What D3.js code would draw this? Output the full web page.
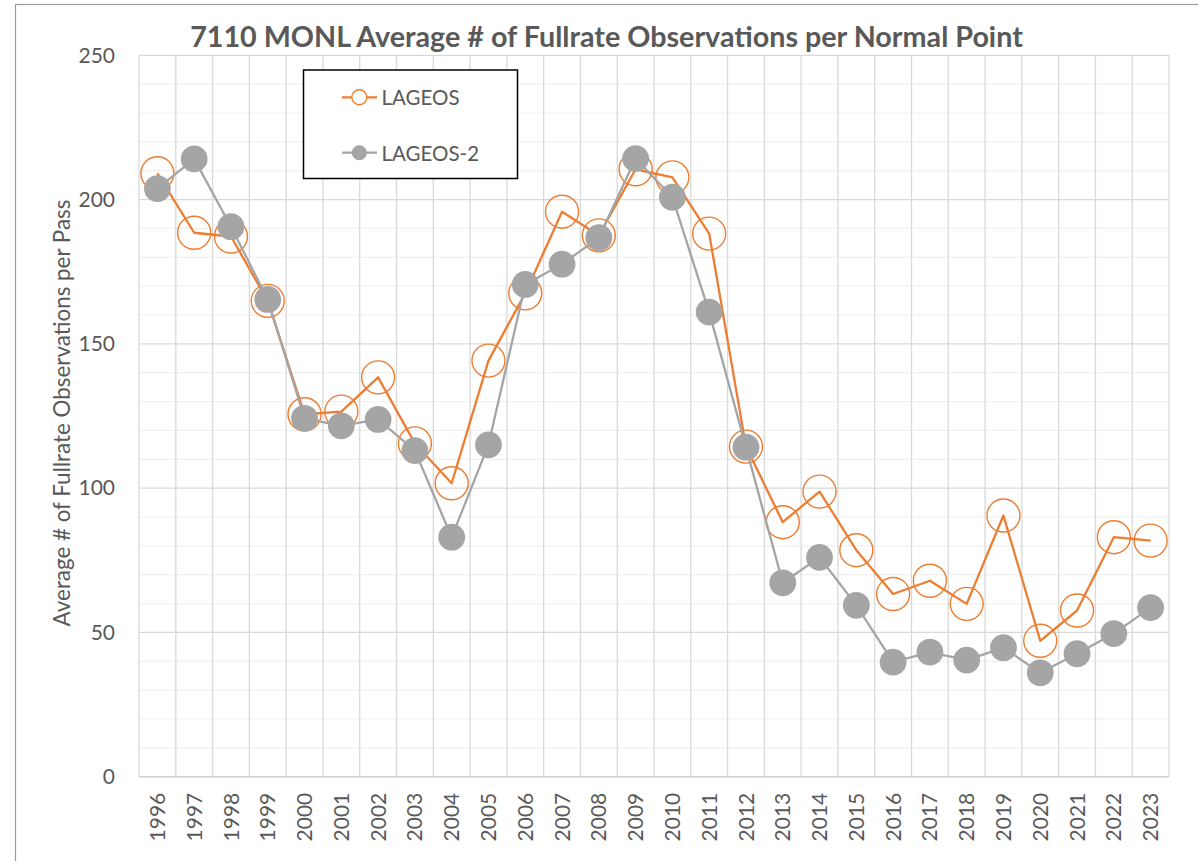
<!DOCTYPE html>
<html>
<head>
<meta charset="utf-8">
<script src="https://cdn.jsdelivr.net/npm/d3@7"></script>
<style>
  html, body { margin: 0; padding: 0; background: #ffffff; }
  svg { display: block; }
  text { font-family: Lato, "Open Sans", "Liberation Sans", sans-serif; fill: #595959; }
</style>
</head>
<body>
<svg id="chart" width="1198" height="861"></svg>
<script>
// Yearly averages for station 7110 (MONL)
const years = [1996, 1997, 1998, 1999, 2000, 2001, 2002, 2003, 2004, 2005,
               2006, 2007, 2008, 2009, 2010, 2011, 2012, 2013, 2014, 2015,
               2016, 2017, 2018, 2019, 2020, 2021, 2022, 2023];
const lageos = [209.1, 188.5, 187.2, 164.9, 125.6, 126.5, 138.4, 115.5, 101.7, 144.2,
                167.5, 195.8, 187.6, 210.5, 207.7, 188.2, 114.4, 88.2, 98.8, 78.5,
                63.3, 67.9, 59.9, 90.5, 47.1, 57.6, 83.0, 81.8];
const lageos2 = [203.8, 214.1, 190.6, 165.4, 124.2, 121.6, 123.8, 113.0, 83.0, 115.0,
                 170.6, 177.6, 186.8, 214.2, 200.8, 161.0, 114.2, 67.2, 76.0, 59.4,
                 39.7, 43.2, 40.4, 44.7, 36.0, 42.6, 49.6, 58.6];
const yTicks = [0, 50, 100, 150, 200, 250];
const seriesNames = ["LAGEOS", "LAGEOS-2"];

const titleText = "7110 MONL Average # of Fullrate Observations per Normal Point";
const yTitleText = "Average # of Fullrate Observations per Pass";

const svg = d3.select("#chart");

// Outer chart frame (only top and left edges fall inside the canvas)
svg.append("rect")
  .attr("x", 15.5).attr("y", 4.5)
  .attr("width", 1300).attr("height", 1000)
  .attr("fill", "#ffffff")
  .attr("stroke", "#9a9a9a").attr("stroke-width", 1.2);

const plot = { left: 139, right: 1169, top: 55.3, bottom: 776.7 };

const x = d3.scaleBand().domain(years).range([plot.left, plot.right]).padding(0);
const y = d3.scaleLinear().domain([0, 250]).range([plot.bottom, plot.top]);
const cx = d => x(d) + x.bandwidth() / 2;

// Minor horizontal gridlines every 10
const minor = d3.range(10, 250, 10).filter(v => v % 50 !== 0);
svg.append("g").selectAll("line").data(minor).join("line")
  .attr("x1", plot.left).attr("x2", plot.right)
  .attr("y1", d => y(d)).attr("y2", d => y(d))
  .attr("stroke", "#f0f0f0").attr("stroke-width", 1.2);

// Major horizontal gridlines
svg.append("g").selectAll("line").data(yTicks.filter(v => v > 0)).join("line")
  .attr("x1", plot.left).attr("x2", plot.right)
  .attr("y1", d => y(d)).attr("y2", d => y(d))
  .attr("stroke", "#d9d9d9").attr("stroke-width", 1.3);

// Vertical gridlines at category boundaries
const bounds = years.map(d => x(d)).concat([plot.right]);
svg.append("g").selectAll("line").data(bounds).join("line")
  .attr("x1", d => d).attr("x2", d => d)
  .attr("y1", plot.top).attr("y2", plot.bottom)
  .attr("stroke", "#d9d9d9").attr("stroke-width", 1.3);

// Category axis line
svg.append("line")
  .attr("x1", plot.left).attr("x2", plot.right)
  .attr("y1", plot.bottom).attr("y2", plot.bottom)
  .attr("stroke", "#cfcfcf").attr("stroke-width", 1.6);

// Value axis labels
const yAxis = svg.append("g")
  .attr("transform", `translate(${plot.left},0)`)
  .call(d3.axisLeft(y).tickValues(yTicks).tickSize(0).tickPadding(24));
yAxis.select(".domain").remove();
yAxis.selectAll("text")
  .attr("font-family", "Lato, 'Open Sans', sans-serif")
  .attr("font-size", 21).attr("fill", "#595959");

// Category axis labels, rotated
const xAxis = svg.append("g")
  .attr("transform", `translate(0,${plot.bottom})`)
  .call(d3.axisBottom(x).tickSize(0).tickPadding(0));
xAxis.select(".domain").remove();
xAxis.selectAll("text")
  .attr("font-family", "Lato, 'Open Sans', sans-serif")
  .attr("font-size", 21).attr("fill", "#595959")
  .attr("text-anchor", "end")
  .attr("x", 0).attr("y", 0).attr("dy", "0.36em")
  .attr("transform", "translate(0,16) rotate(-90)");

// Series lines and markers
const line = d3.line().x((d, i) => cx(years[i])).y(d => y(d));

const orange = "#ED7D31";
const grey = "#A5A5A5";

const g1 = svg.append("g");
g1.append("path").datum(lageos)
  .attr("d", line).attr("fill", "none")
  .attr("stroke", orange).attr("stroke-width", 2.3).attr("stroke-linejoin", "round");
g1.selectAll("circle").data(lageos).join("circle")
  .attr("cx", (d, i) => cx(years[i])).attr("cy", d => y(d))
  .attr("r", 16.5).attr("fill", "none")
  .attr("stroke", orange).attr("stroke-width", 1.4);

const g2 = svg.append("g");
g2.append("path").datum(lageos2)
  .attr("d", line).attr("fill", "none")
  .attr("stroke", grey).attr("stroke-width", 2.3).attr("stroke-linejoin", "round");
g2.selectAll("circle").data(lageos2).join("circle")
  .attr("cx", (d, i) => cx(years[i])).attr("cy", d => y(d))
  .attr("r", 13.4).attr("fill", grey);

// Title, fitted to its width
const title = svg.append("text")
  .attr("x", 606.5).attr("y", 46.7)
  .attr("text-anchor", "middle")
  .attr("font-weight", "bold")
  .attr("font-size", 28)
  .attr("fill", "#595959")
  .text(titleText);
const tw = title.node().getComputedTextLength();
title.attr("font-size", 28 * 833 / tw);

// Value axis title, fitted to its length
const yTitle = svg.append("text")
  .attr("transform", "translate(61,413) rotate(-90)")
  .attr("text-anchor", "middle")
  .attr("dominant-baseline", "central")
  .attr("font-size", 18)
  .attr("fill", "#595959")
  .text(yTitleText);
const yl = yTitle.node().getComputedTextLength();
yTitle.attr("font-size", 18 * 427 / yl);

// Legend
const legend = svg.append("g");
legend.append("rect")
  .attr("x", 303.5).attr("y", 70)
  .attr("width", 214).attr("height", 108.5)
  .attr("fill", "#ffffff").attr("stroke", "#000000").attr("stroke-width", 1.5);

const legendItems = [
  { name: seriesNames[0], color: orange, filled: false, r: 7.5, y: 97.3 },
  { name: seriesNames[1], color: grey, filled: true, r: 7.5, y: 152.7 }
];
legendItems.forEach(item => {
  legend.append("line")
    .attr("x1", 342).attr("x2", 377)
    .attr("y1", item.y).attr("y2", item.y)
    .attr("stroke", item.color).attr("stroke-width", 2.3);
  legend.append("circle")
    .attr("cx", 359.3).attr("cy", item.y).attr("r", item.r)
    .attr("fill", item.filled ? item.color : "#ffffff")
    .attr("stroke", item.filled ? "none" : item.color)
    .attr("stroke-width", 1.4);
  legend.append("text")
    .attr("x", 381.5).attr("y", item.y)
    .attr("dominant-baseline", "central")
    .attr("font-size", 20.5)
    .attr("fill", "#595959")
    .text(item.name);
});
</script>
</body>
</html>
